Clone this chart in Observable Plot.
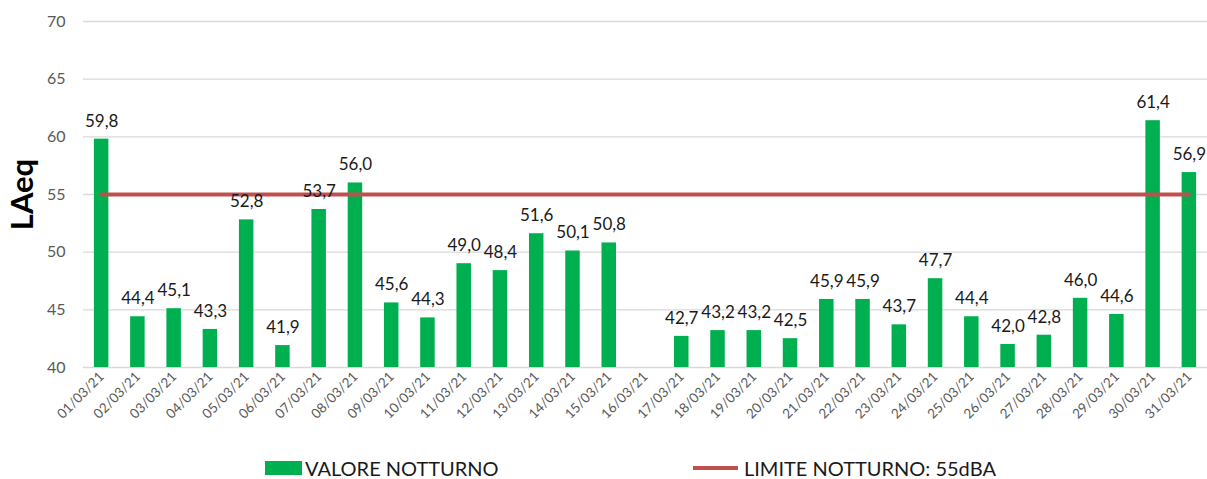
<!DOCTYPE html>
<html>
<head>
<meta charset="utf-8">
<script src="https://cdn.jsdelivr.net/npm/d3@7"></script>
<script src="https://cdn.jsdelivr.net/npm/@observablehq/plot@0.6"></script>
<style>
  body { margin: 0; background: #fff; font-family: Lato, "Open Sans", sans-serif; }
  #legend { position: relative; height: 34px; width: 1207px; font-size: 20px; color: #1a1a1a; }
  .item { position: absolute; top: 6px; height: 34px; display: flex; align-items: center; }
  .sw { display: inline-block; margin-right: 3px; }
</style>
</head>
<body>
<div id="chart"></div>
<div id="legend"></div>
<script>
const dates = ["01/03/21","02/03/21","03/03/21","04/03/21","05/03/21","06/03/21","07/03/21","08/03/21","09/03/21","10/03/21",
  "11/03/21","12/03/21","13/03/21","14/03/21","15/03/21","16/03/21","17/03/21","18/03/21","19/03/21","20/03/21",
  "21/03/21","22/03/21","23/03/21","24/03/21","25/03/21","26/03/21","27/03/21","28/03/21","29/03/21","30/03/21","31/03/21"];
const valoreNotturno = [59.8,44.4,45.1,43.3,52.8,41.9,53.7,56.0,45.6,44.3,
  49.0,48.4,51.6,50.1,50.8,null,42.7,43.2,43.2,42.5,
  45.9,45.9,43.7,47.7,44.4,42.0,42.8,46.0,44.6,61.4,56.9];
const limiteNotturno = 55;
const yTicks = [40,45,50,55,60,65,70];
const seriesNames = ["VALORE NOTTURNO", "LIMITE NOTTURNO: 55dBA"];
const colors = { valore: "#00B050", limite: "#C0504D" };

const rows = dates.map((d, i) => ({ date: d, value: valoreNotturno[i], limit: limiteNotturno }));
const barRows = rows.filter(r => r.value != null);
const fmt = v => v.toFixed(1).replace(".", ",");

const chart = Plot.plot({
  width: 1207,
  height: 445,
  marginLeft: 83,
  marginRight: 0,
  marginTop: 21,
  marginBottom: 78,
  style: { fontFamily: "Lato, 'Open Sans', sans-serif", background: "#fff" },
  x: { domain: dates, paddingInner: 0.6, paddingOuter: 0.3, round: false, label: null, tickSize: 0 },
  y: { domain: [40, 70], ticks: yTicks, label: null, tickSize: 0 },
  marks: [
    Plot.ruleY(yTicks, { stroke: "#d9d9d9", strokeWidth: 1.3 }),
    Plot.barY(barRows, { x: "date", y1: 40, y2: "value", fill: colors.valore }),
    Plot.lineY(rows, { x: "date", y: "limit", stroke: colors.limite, strokeWidth: 4 }),
    Plot.text(barRows, { x: "date", y: "value", text: d => fmt(d.value), dy: -18, fontSize: 17, fill: "#1a1a1a" }),
    Plot.axisY({ ticks: yTicks, tickSize: 0, tickPadding: 18, fontSize: 16, fill: "#595959", label: null }),
    Plot.axisX({ tickSize: 0, tickRotate: -45, tickPadding: 7, fontSize: 13.5, fill: "#595959", label: null, textAnchor: "end" }),
    Plot.text(["LAeq"], { frameAnchor: "left", dx: -60, rotate: -90, fontSize: 31, fontWeight: "bold", fill: "#000", textAnchor: "middle" })
  ]
});
document.getElementById("chart").appendChild(chart);

const legend = document.getElementById("legend");
legend.innerHTML = `
  <div class="item" style="left:265px"><span class="sw" style="width:37px;height:14px;background:${colors.valore}"></span>${seriesNames[0]}</div>
  <div class="item" style="left:693px"><span class="sw" style="width:45px;height:4px;background:${colors.limite};margin-right:6px"></span>${seriesNames[1]}</div>`;
</script>
</body>
</html>
